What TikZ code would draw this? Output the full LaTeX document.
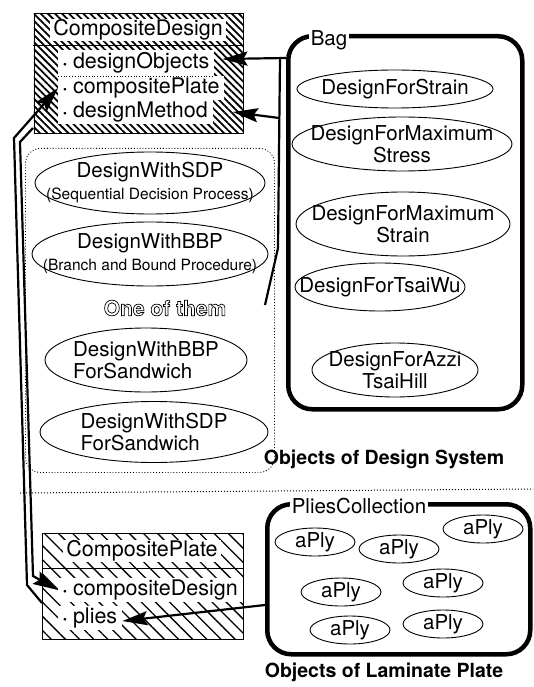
\documentclass[tikz,border=0pt]{standalone}
\usepackage{fontspec}
\setmainfont{TeX Gyre Heros}
\usetikzlibrary{arrows.meta, positioning, shapes.geometric, patterns.meta}
\newcommand\dotmark{{\fontsize{11}{11}\selectfont\textbullet}}
\newcommand\hollow[1]{\special{pdf:code 1 Tr 0.7 w}#1\special{pdf:code 0 Tr}}
\tikzset{
    hatchfine/.style={
        draw,
        line width=0.8pt,
        pattern={Lines[angle=-45,distance=5pt,line width=1.8pt]}
    },
    hatchwide/.style={
        draw,
        line width=0.8pt,
        pattern={Lines[angle=-45,distance=10pt,line width=1.3pt]}
    },
    classname/.style={fill=white, inner xsep=3pt, inner ysep=1pt, font=\fontsize{21.5}{24}\selectfont},
    attr/.style={fill=white, anchor=west, inner xsep=5pt, inner ysep=2pt, font=\fontsize{21.5}{24}\selectfont},
    oval/.style={draw, ellipse, line width=0.9pt, inner sep=0pt},
    ovaltext/.style={font=\fontsize{20.5}{22}\selectfont, align=center},
    bagbox/.style={draw, rounded corners=24pt, line width=4.5pt},
    baglabel/.style={fill=white, inner sep=2pt, font=\fontsize{20.5}{24}\selectfont},
    heading/.style={font=\fontsize{19.5}{22}\selectfont\bfseries},
    wire/.style={line width=2.2pt},
    link/.style={line width=2.2pt, -{Stealth[length=25pt,width=14pt,inset=4pt]}}
}
\begin{document}
\begin{tikzpicture}[x=1pt,y=-1pt]
\useasboundingbox (0,0) rectangle (533,687);

% CompositeDesign
\node[hatchfine, minimum width=209, minimum height=120, anchor=north west] (cdbox) at (33,13) {};
\draw[line width=0.8pt] (cdbox.west |- 0,45) -- (cdbox.east |- 0,45);
\node[classname] (cdname) at (138,30) {CompositeDesign};
\node[attr, minimum height=26] (dObj) at (58,63) {\dotmark\ designObjects};
\node[attr] (cPl) at (58,88) {\dotmark\ compositePlate};
\node[attr] (dMeth) at (58,112) {\dotmark\ designMethod};
\draw[dotted, line width=0.8pt] (dObj.south west) -- (dObj.south east);

% design methods, one of them
\node[draw, dotted, rounded corners=15pt, line width=0.9pt, minimum width=249, minimum height=324, anchor=north west] (methods) at (25,148) {};
\node[oval, minimum width=230, minimum height=62, label={[ovaltext]center:DesignWithSDP\\{\fontsize{15.5}{16}\selectfont(Sequential Decision Process)}}] (sdp) at (150,183) {};
\node[oval, minimum width=236, minimum height=64, label={[ovaltext]center:DesignWithBBP\\{\fontsize{15.5}{16}\selectfont(Branch and Bound Procedure)}}] (bbp) at (150,254) {};
\node[font=\fontsize{21}{22}\selectfont\bfseries] (oneof) at (165,308) {\hollow{One of them}};
\node[oval, minimum width=202, minimum height=64, label={[ovaltext, align=left]center:DesignWithBBP\\ForSandwich}] (bbpsw) at (146,360) {};
\node[oval, minimum width=228, minimum height=61, label={[ovaltext, align=left]center:DesignWithSDP\\ForSandwich}] (sdpsw) at (154,432) {};
\node[heading] (sysname) at (384,459) {Objects of Design System};

% Bag
\node[bagbox, minimum width=234, minimum height=373, anchor=north west] (bag) at (286,34) {};
\node[baglabel] (baglbl) at (329,40) {Bag};
\node[oval, minimum width=196, minimum height=38, label={[ovaltext]center:DesignForStrain}] (strain) at (395,89) {};
\node[oval, minimum width=220, minimum height=54, label={[ovaltext]center:DesignForMaximum\\Stress}] (maxstress) at (402,144) {};
\node[oval, minimum width=214, minimum height=64, label={[ovaltext]center:DesignForMaximum\\Strain}] (maxstrain) at (403,224) {};
\node[oval, minimum width=170, minimum height=48, label={[ovaltext]center:DesignForTsaiWu}] (tsaiwu) at (380,287) {};
\node[oval, minimum width=166, minimum height=54, label={[ovaltext]center:DesignForAzzi\\TsaiHill}] (tsaihill) at (395,370) {};

% divider
\draw[dotted, line width=1pt] (20,493) -- (533,489);

% CompositePlate
\node[hatchwide, minimum width=201, minimum height=106, anchor=north west] (cpbox) at (42,533) {};
\draw[line width=0.8pt] (cpbox.west |- 0,568) -- (cpbox.east |- 0,568);
\node[classname] (cpname) at (142,551) {CompositePlate};
\node[attr] (cDes) at (58,590) {\dotmark\ compositeDesign};
\node[attr] (pl) at (58,618) {\dotmark\ plies};

% PliesCollection
\node[bagbox, minimum width=263, minimum height=150, anchor=north west] (plies) at (265,502) {};
\node[baglabel] (plieslbl) at (359,506) {PliesCollection};
\foreach \n/\p in {1/{315,542}, 2/{399,549}, 3/{483,529}, 4/{341,592}, 5/{443,583}, 6/{350,630}, 7/{443,624}}
    \node[oval, minimum width=80, minimum height=28, label={[ovaltext]center:aPly}] (ply\n) at (\p) {};
\node[heading] (platename) at (384,672) {Objects of Laminate Plate};

% links
\coordinate (mStart) at (265,305);
\coordinate (mJoin) at (279,118);
\draw[link] (bag.west |- 0,58) -- ([xshift=8pt,yshift=4pt]dObj.east);
\draw[wire] (mStart) -- (278,248) -- (280,58);
\draw[link] (mJoin) -- ([xshift=20pt]dMeth.east);
\draw[link] (cpbox.west |- 0,603) -- (27,585) -- (14,138) -- (cPl.west);
\draw[link] (cdbox.west |- 0,128) -- (20,142) -- (33,576) -- (cDes.west);
\draw[link] (plies.west |- 0,605) -- ([yshift=-3pt]pl.east);
\end{tikzpicture}
\end{document}
